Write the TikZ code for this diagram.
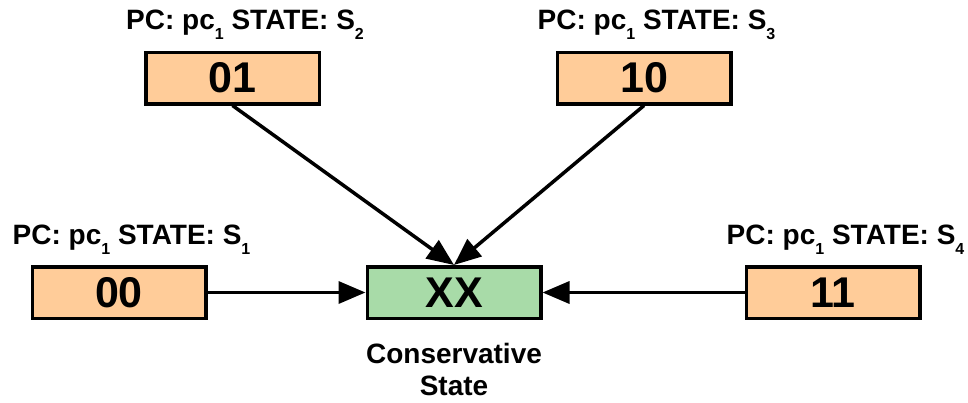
\documentclass[tikz,border=0pt]{standalone}
\usepackage{fontspec}
\setmainfont{Liberation Sans}
\usetikzlibrary{positioning, arrows.meta}

\definecolor{boxorange}{RGB}{255,204,153}
\definecolor{boxgreen}{RGB}{168,219,168}
\newcommand{\lowsub}[1]{\raisebox{-10pt}{\fontsize{16}{16}\selectfont #1}}

\begin{document}
\begin{tikzpicture}[
    x=1pt, y=-1pt,
    % Styles
    state_box/.style={draw=black, line width=3.5pt, fill=boxorange, minimum width=173.5pt, minimum height=51.5pt, inner sep=0pt, font=\fontsize{43}{43}\selectfont\bfseries},
    merged_box/.style={state_box, fill=boxgreen},
    pc_label/.style={font=\fontsize{28}{28}\selectfont\bfseries, inner sep=0pt, anchor=base west},
    note_label/.style={font=\fontsize{28}{32}\selectfont\bfseries, inner sep=0pt, align=center},
    flow/.style={-{Triangle[length=27pt,width=22pt]}, line width=3.5pt}
]
\useasboundingbox (0,0) rectangle (968,402);

% 1. Merged (conservative) state
\node[merged_box] (box_xx) at (454,292.5) {XX};
\node[note_label, below=23pt of box_xx] (lbl_xx) {Conservative\\State};

% 2. Incoming states
\node[state_box, left=158pt of box_xx] (box_00) {00};
\node[state_box, right=202pt of box_xx] (box_11) {11};
\node[state_box] (box_01) at (232.5,78) {01};
\node[state_box] (box_10) at (644,78) {10};

% Labels above the boxes
\foreach \name/\idx in {00/1, 01/2, 10/3, 11/4} {
    \node[pc_label] (lbl_\name) at ([xshift=-18pt,yshift=21pt]box_\name.north west) {PC: pc\lowsub{1} STATE: S\lowsub{\idx}};
}

% Transitions
\draw[flow] (box_00) -- (box_xx);
\draw[flow] (box_11) -- (box_xx);
\draw[flow] (box_01.south) -- (box_xx.north);
\draw[flow] (box_10.south) -- (box_xx.north);

\end{tikzpicture}
\end{document}
